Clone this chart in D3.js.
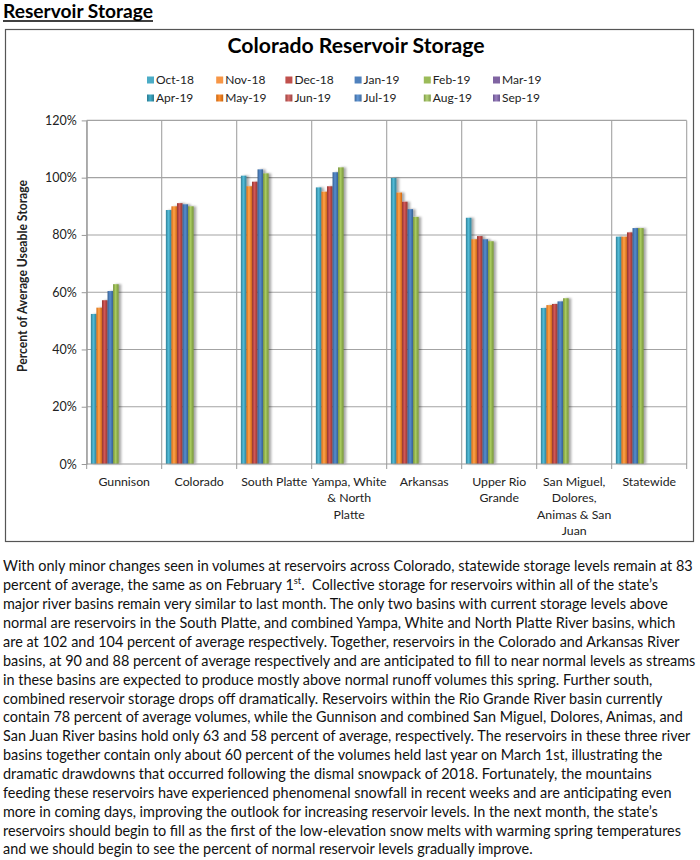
<!DOCTYPE html>
<html>
<head>
<meta charset="utf-8">
<script src="https://cdn.jsdelivr.net/npm/d3@7"></script>
<style>
  body{margin:0;background:#fff;}
  svg{display:block;font-family:Lato,"Open Sans",sans-serif;}
  .para text{white-space:pre;}
</style>
</head>
<body>
<div id="grafico"></div>
<script>
// data (percent of average)
const basins=["Gunnison","Colorado","South Platte","Yampa, White & North Platte","Arkansas","Upper Rio Grande","San Miguel, Dolores, Animas & San Juan","Statewide"]
const basinLabels=[["Gunnison"],["Colorado"],["South Platte"],["Yampa, White","& North","Platte"],["Arkansas"],["Upper Rio","Grande"],["San Miguel,","Dolores,","Animas & San","Juan"],["Statewide"]]
const months=["Oct-18","Nov-18","Dec-18","Jan-19","Feb-19","Mar-19","Apr-19","May-19","Jun-19","Jul-19","Aug-19","Sep-19"]
const oct18=[52.4,88.7,100.7,96.6,99.9,86.0,54.5,79.4]
const nov18=[54.6,90.0,97.0,95.1,94.8,78.5,55.5,79.4]
const dec18=[57.2,91.1,98.6,97.0,91.6,79.6,55.9,80.9]
const jan19=[60.4,90.7,102.9,101.9,89.0,78.5,56.8,82.4]
const feb19=[62.8,90.0,101.5,103.6,86.3,77.8,57.9,82.4]
const seriesValues=[oct18,nov18,dec18,jan19,feb19,[],[],[],[],[],[],[]]
const yTicks=[0,20,40,60,80,100,120]

const colors=["#4bacc6","#f79646","#c0504d","#4f81bd","#9bbb59","#8064a2","#3a9db7","#f0832c","#c56361","#5a8bc5","#a4c06c","#8c73ae"]
const darks=["#2e7f96","#d2680f","#933532","#355f90","#759138","#5f4a80","#2a7a90","#c9650e","#9c4341","#3f6a9e","#7f9a48","#6a5590"]

const paragraph=[
 "With only minor changes seen in volumes at reservoirs across Colorado, statewide storage levels remain at 83",
 "percent of average, the same as on February 1|st|.  Collective storage for reservoirs within all of the state\u2019s",
 "major river basins remain very similar to last month. The only two basins with current storage levels above",
 "normal are reservoirs in the South Platte, and combined Yampa, White and North Platte River basins, which",
 "are at 102 and 104 percent of average respectively. Together, reservoirs in the Colorado and Arkansas River",
 "basins, at 90 and 88 percent of average respectively and are anticipated to fill to near normal levels as streams",
 "in these basins are expected to produce mostly above normal runoff volumes this spring. Further south,",
 "combined reservoir storage drops off dramatically. Reservoirs within the Rio Grande River basin currently",
 "contain 78 percent of average volumes, while the Gunnison and combined San Miguel, Dolores, Animas, and",
 "San Juan River basins hold only 63 and 58 percent of average, respectively. The reservoirs in these three river",
 "basins together contain only about 60 percent of the volumes held last year on March 1st, illustrating the",
 "dramatic drawdowns that occurred following the dismal snowpack of 2018. Fortunately, the mountains",
 "feeding these reservoirs have experienced phenomenal snowfall in recent weeks and are anticipating even",
 "more in coming days, improving the outlook for increasing reservoir levels. In the next month, the state\u2019s",
 "reservoirs should begin to fill as the first of the low-elevation snow melts with warming spring temperatures",
 "and we should begin to see the percent of normal reservoir levels gradually improve."
]

const svg=d3.select("#grafico").append("svg")
  .attr("width",700).attr("height",860)

const defs=svg.append("defs")
months.forEach((m,i)=>{
  let g=defs.append("linearGradient").attr("id","grad"+i).attr("x1","0").attr("x2","1").attr("y1","0").attr("y2","0")
  g.append("stop").attr("offset","0%").attr("stop-color",darks[i])
  g.append("stop").attr("offset","45%").attr("stop-color",d3.color(colors[i]).brighter(0.25))
  g.append("stop").attr("offset","100%").attr("stop-color",darks[i])
})
defs.append("filter").attr("id","shadow").attr("x","-20%").attr("y","-5%").attr("width","160%").attr("height","110%")
  .append("feDropShadow").attr("dx",2.5).attr("dy",0).attr("stdDeviation",1.2)
  .attr("flood-color","#000").attr("flood-opacity",0.35)

//heading
svg.append("text").attr("x",3).attr("y",18)
  .attr("font-size",18.5).attr("font-weight","bold").attr("textLength",150).attr("lengthAdjust","spacingAndGlyphs")
  .text("Reservoir Storage")
svg.append("line").attr("x1",3).attr("x2",153).attr("y1",21).attr("y2",21).attr("stroke","#000").attr("stroke-width",1.4)

//chart box
svg.append("rect").attr("x",5.5).attr("y",29.5).attr("width",688).attr("height",512)
  .attr("fill","#fff").attr("stroke","#555").attr("stroke-width",1.2)

svg.append("text").attr("x",356).attr("y",53).attr("text-anchor","middle")
  .attr("font-size",20).attr("font-weight","bold").attr("textLength",257).attr("lengthAdjust","spacingAndGlyphs")
  .text("Colorado Reservoir Storage")

//legend
let legend=svg.append("g").attr("font-size",12).attr("fill","#222")
months.forEach((m,i)=>{
  let lx=147+(i%6)*69.2, ly=i<6?80:98
  legend.append("rect").attr("x",lx).attr("y",ly-3.5).attr("width",7).attr("height",7)
    .attr("fill",i<6?colors[i]:"url(#grad"+i+")")
  legend.append("text").attr("x",lx+9).attr("y",ly+4.3).text(m)
})

//scales
const plotLeft=86.7, plotRight=686.7, plotTop=120.4, plotBottom=464
let x=d3.scaleBand().domain(basins).range([plotLeft,plotRight]).padding(0)
let xInner=d3.scaleBand().domain(months).range([0,x.bandwidth()]).paddingInner(0).paddingOuter(0.75)
let y=d3.scaleLinear().domain([0,120]).range([plotBottom,plotTop])

//grid
let grid=svg.append("g").attr("stroke","#a3a3a3").attr("stroke-width",1.1)
grid.selectAll("line.h").data(yTicks.slice(1)).enter().append("line")
  .attr("x1",plotLeft).attr("x2",plotRight).attr("y1",d=>y(d)).attr("y2",d=>y(d))
grid.selectAll("line.v").data(basins.map(b=>x(b)+x.bandwidth()).concat([plotLeft])).enter().append("line")
  .attr("x1",d=>d).attr("x2",d=>d).attr("y1",plotTop).attr("y2",plotBottom)

//bars
let bars=svg.append("g").attr("filter","url(#shadow)")
months.forEach((m,i)=>{
  bars.selectAll(null).data(seriesValues[i].map((v,j)=>({basin:basins[j],v:v}))).enter().append("rect")
    .attr("x",d=>x(d.basin)+xInner(m))
    .attr("y",d=>y(d.v))
    .attr("width",xInner.bandwidth())
    .attr("height",d=>plotBottom-y(d.v))
    .attr("fill","url(#grad"+i+")")
})

//axes
let yAxis=svg.append("g").attr("transform",`translate(${plotLeft},0)`)
  .call(d3.axisLeft(y).tickValues(yTicks).tickFormat(d=>d+"%").tickSize(5).tickSizeOuter(0))
yAxis.select(".domain").attr("stroke","#999")
yAxis.selectAll(".tick line").attr("stroke","#999")
yAxis.selectAll("text").attr("font-family","Lato,sans-serif").attr("font-size",12.5).attr("fill","#222").attr("x",-10)

let xAxis=svg.append("g").attr("transform",`translate(0,${plotBottom})`)
xAxis.append("line").attr("x1",plotLeft).attr("x2",plotRight).attr("stroke","#999").attr("stroke-width",1.2)
xAxis.selectAll("line.t").data(basins.map(b=>x(b)).concat([plotRight])).enter().append("line")
  .attr("x1",d=>d).attr("x2",d=>d).attr("y1",0).attr("y2",5).attr("stroke","#999")
basins.forEach((b,i)=>{
  let t=xAxis.append("text").attr("text-anchor","middle").attr("font-size",12.3).attr("fill","#222")
  basinLabels[i].forEach((line,k)=>{
    t.append("tspan").attr("x",x(b)+x.bandwidth()/2).attr("y",21.5+k*16.6).text(line)
  })
})

svg.append("text").attr("transform","translate(27,276) rotate(-90)")
  .attr("text-anchor","middle").attr("font-size",12.5).attr("font-weight","bold").attr("fill","#222")
  .attr("textLength",192).attr("lengthAdjust","spacingAndGlyphs")
  .text("Percent of Average Useable Storage")

//paragraph
let para=svg.append("g").attr("class","para").attr("font-size",15.5).attr("fill","#111")
paragraph.forEach((line,i)=>{
  let t=para.append("text").attr("x",0).attr("y",571.5+i*18.86)
  line.split("|").forEach((part,k)=>{
    let s=t.append("tspan").text(part)
    if(k==1) s.attr("font-size",10).attr("dy",-6)
    if(k==2) s.attr("dy",6)
  })
})
let w=para.select("text").node().getComputedTextLength()
para.attr("transform",`translate(3,0) scale(${690/w},1)`)
</script>
</body>
</html>
